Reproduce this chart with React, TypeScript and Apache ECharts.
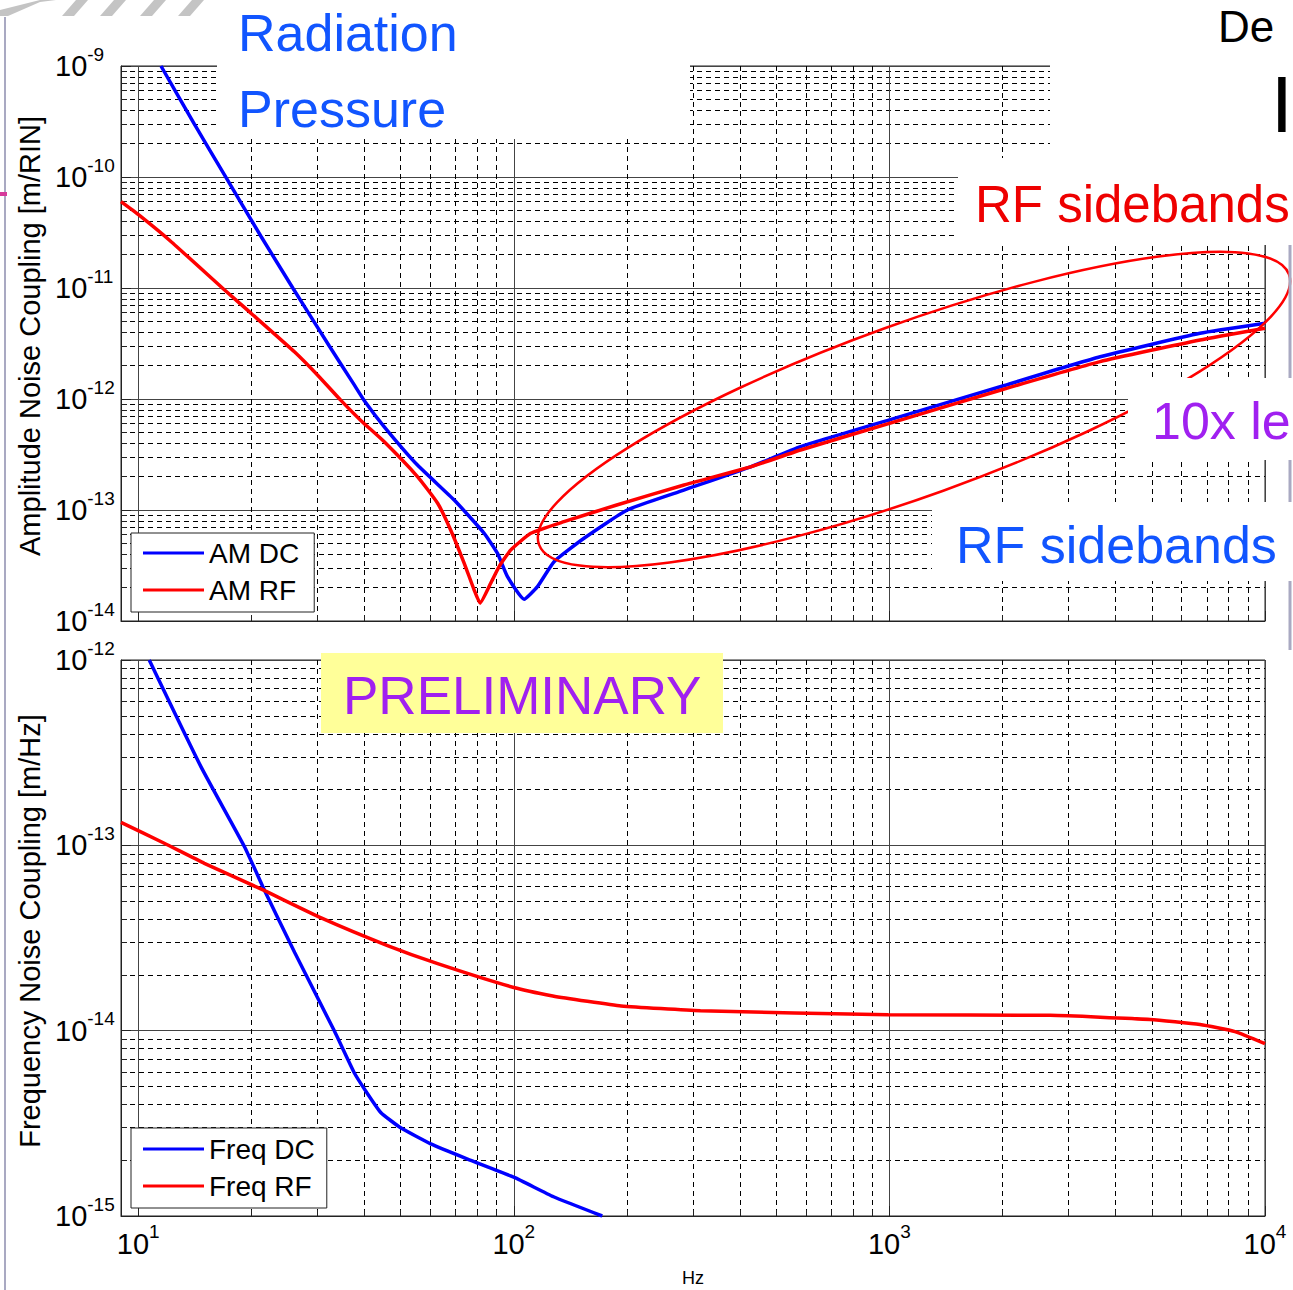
import React, { useEffect, useRef } from 'react';
import * as echarts from 'echarts';

// ---------- data ----------
// Top panel: Amplitude noise coupling [m/RIN]
const amDcFreq = [11.5, 14.1, 17.3, 21.2, 25.8, 32.3, 37.5, 40, 45.2, 55.4, 69.4, 83.4, 90.5, 96.2, 106.5, 115.6, 128, 153.8, 200.5, 283.5, 427, 580, 1069, 1972, 3639, 6714, 10000];
const amDcValue = [1.0e-9, 3.01e-10, 9.37e-11, 2.94e-11, 1.0e-11, 2.99e-12, 1.36e-12, 9.66e-13, 5.62e-13, 2.54e-13, 1.23e-13, 6.17e-14, 4.07e-14, 2.51e-14, 1.57e-14, 2.04e-14, 3.42e-14, 5.56e-14, 1.0e-13, 1.51e-13, 2.45e-13, 3.72e-13, 6.93e-13, 1.29e-12, 2.40e-12, 3.91e-12, 4.81e-12];

const amRfFreq = [9.0, 10, 12.2, 16.9, 20, 26.1, 30.1, 34.7, 39.2, 45.2, 55.4, 62.7, 67.9, 73.8, 78.4, 81.3, 86.8, 91.4, 98.2, 111, 136, 188, 284, 427, 580, 1069, 1972, 3639, 6714, 10000];
const amRfValue = [6.0e-11, 4.6e-11, 2.64e-11, 9.75e-12, 5.9e-12, 2.65e-12, 1.63e-12, 9.66e-13, 6.38e-13, 4.12e-13, 2.0e-13, 1.15e-13, 6.61e-14, 3.31e-14, 1.91e-14, 1.45e-14, 2.19e-14, 3.09e-14, 4.37e-14, 6.17e-14, 7.85e-14, 1.11e-13, 1.68e-13, 2.45e-13, 3.47e-13, 6.46e-13, 1.2e-12, 2.17e-12, 3.40e-12, 4.34e-12];

// Bottom panel: Frequency noise coupling [m/Hz]
const fmDcFreq = [10.7, 14.7, 19.2, 21.7, 26.1, 33.3, 37.6, 41, 44.3, 50, 60.1, 75.3, 100, 127.6, 172];
const fmDcValue = [1.0e-12, 2.65e-13, 9.8e-14, 5.71e-14, 2.64e-14, 9.95e-15, 5.93e-15, 4.5e-15, 3.61e-15, 2.99e-15, 2.45e-15, 2.03e-15, 1.62e-15, 1.27e-15, 1.0e-15];

const fmRfFreq = [9.0, 11.7, 15.0, 21.2, 30.7, 46.1, 62.7, 100, 127, 157, 193, 314, 993, 2680, 4946, 6714, 8320, 10000];
const fmRfValue = [1.33e-13, 1.03e-13, 8.0e-14, 5.82e-14, 4.06e-14, 2.88e-14, 2.30e-14, 1.71e-14, 1.54e-14, 1.44e-14, 1.36e-14, 1.28e-14, 1.22e-14, 1.21e-14, 1.15e-14, 1.08e-14, 9.89e-15, 8.51e-15];

const xRange = [9, 10000];
const amRange = [1e-14, 1e-9];
const fmRange = [1e-15, 1e-12];

const amLegend = ['AM DC', 'AM RF'];
const fmLegend = ['Freq DC', 'Freq RF'];

const FONT = '"Liberation Sans", Arial, Helvetica, sans-serif';
const BLUE = '#0000ff';
const RED = '#ff0000';

function pairs(xs: number[], ys: number[]) {
  return xs.map((x, i) => [x, ys[i]]);
}

function decadeLabel(v: number) {
  const e = Math.round(Math.log10(v));
  if (Math.abs(v / Math.pow(10, e) - 1) > 1e-6) return '';
  return `{b|10}{s|${e}}`;
}

const rich = {
  b: { fontSize: 29, fontFamily: FONT, color: '#000', lineHeight: 29 },
  s: { fontSize: 19, fontFamily: FONT, color: '#000', lineHeight: 19, padding: [0, 0, 24, 0] },
};

function logAxis(min: number, max: number) {
  return {
    type: 'log',
    logBase: 10,
    min,
    max,
    axisLine: { show: true, lineStyle: { color: '#222', width: 1 } },
    axisTick: { show: true, inside: true, length: 10, lineStyle: { color: '#222', width: 1 } },
    minorTick: { show: true, splitNumber: 9, length: 6, lineStyle: { color: '#222', width: 1 } },
    splitLine: { show: true, lineStyle: { color: '#444', width: 1, type: 'solid' } },
    minorSplitLine: { show: true, lineStyle: { color: '#000', width: 1, type: [5, 4] } },
  };
}

function lineSeries(name: string, xi: number, data: number[][], color: string) {
  return {
    name,
    type: 'line',
    xAxisIndex: xi,
    yAxisIndex: xi,
    data,
    showSymbol: false,
    symbol: 'none',
    clip: true,
    smooth: 0.15,
    lineStyle: { color, width: 3.5 },
    itemStyle: { color },
    emphasis: { disabled: true },
  };
}

function legendBox(data: string[], top: number, pad: number[]) {
  return {
    data,
    left: 131,
    top,
    orient: 'vertical',
    icon: 'rect',
    itemWidth: 61,
    itemHeight: 3,
    itemGap: 7,
    padding: pad,
    borderColor: '#222',
    borderWidth: 1,
    borderRadius: 0,
    backgroundColor: '#fff',
    selectedMode: false,
    textStyle: { fontSize: 28, fontFamily: FONT, color: '#000', lineHeight: 30 },
  };
}

function whiteBox(x: number, y: number, w: number, h: number, fill = '#fff') {
  return { type: 'rect', z: 100, shape: { x, y, width: w, height: h }, style: { fill, stroke: null } };
}

function label(text: string, x: number, y: number, size: number, color: string, align = 'left', vAlign = 'middle') {
  return {
    type: 'text',
    z: 110,
    x,
    y,
    style: { text, fill: color, fontSize: size, fontFamily: FONT, align, verticalAlign: vAlign },
  };
}

export default function App() {
  const ref = useRef<HTMLDivElement>(null);

  useEffect(() => {
    if (!ref.current) return;
    const chart = echarts.init(ref.current, null, { renderer: 'svg' });
    const option: any = {
      animation: false,
      backgroundColor: '#fff',
      grid: [
        { left: 121, top: 66, width: 1144, height: 555, show: true, borderColor: '#222', borderWidth: 1, containLabel: false, outerBoundsMode: 'none' },
        { left: 121, top: 660, width: 1144, height: 556, show: true, borderColor: '#222', borderWidth: 1, containLabel: false, outerBoundsMode: 'none' },
      ],
      xAxis: [
        { gridIndex: 0, ...logAxis(xRange[0], xRange[1]), axisLabel: { show: false } },
        {
          gridIndex: 1,
          ...logAxis(xRange[0], xRange[1]),
          axisLabel: { formatter: decadeLabel, rich, margin: 13, showMinLabel: true, showMaxLabel: true },
          name: 'Hz',
          nameLocation: 'middle',
          nameGap: 53,
          nameTextStyle: { fontSize: 18, fontFamily: FONT, color: '#000' },
        },
      ],
      yAxis: [
        {
          gridIndex: 0,
          ...logAxis(amRange[0], amRange[1]),
          axisLabel: { formatter: decadeLabel, rich, align: 'left', margin: 66, showMinLabel: true, showMaxLabel: true },
        },
        {
          gridIndex: 1,
          ...logAxis(fmRange[0], fmRange[1]),
          axisLabel: { formatter: decadeLabel, rich, align: 'left', margin: 66, showMinLabel: true, showMaxLabel: true },
        },
      ],
      legend: [legendBox(amLegend, 533, [5, 15, 7, 12]), legendBox(fmLegend, 1128, [6, 12, 7, 12])],
      series: [
        lineSeries(amLegend[0], 0, pairs(amDcFreq, amDcValue), BLUE),
        lineSeries(amLegend[1], 0, pairs(amRfFreq, amRfValue), RED),
        lineSeries(fmLegend[0], 1, pairs(fmDcFreq, fmDcValue), BLUE),
        lineSeries(fmLegend[1], 1, pairs(fmRfFreq, fmRfValue), RED),
      ],
      graphic: {
        elements: [
          // slide decorations
          { type: 'line', z: 60, shape: { x1: 5, y1: 17, x2: 5, y2: 1290 }, style: { stroke: '#a9a9c2', lineWidth: 2 } },
          { type: 'line', z: 60, shape: { x1: 1290, y1: 240, x2: 1290, y2: 650 }, style: { stroke: '#a9a9c2', lineWidth: 3 } },
          { type: 'rect', z: 60, shape: { x: 0, y: 192, width: 7, height: 4 }, style: { fill: '#d63a9a' } },
          { type: 'polygon', z: 60, shape: { points: [[0, 16], [8, 16], [40, 2], [56, 0], [40, 0], [0, 10]] }, style: { fill: '#c4c4c4' } },
          { type: 'polygon', z: 60, shape: { points: [[62, 16], [74, 16], [88, 0], [76, 0]] }, style: { fill: '#c4c4c4' } },
          { type: 'polygon', z: 60, shape: { points: [[100, 16], [112, 16], [126, 0], [114, 0]] }, style: { fill: '#c4c4c4' } },
          { type: 'polygon', z: 60, shape: { points: [[140, 16], [152, 16], [166, 0], [154, 0]] }, style: { fill: '#c4c4c4' } },
          { type: 'polygon', z: 60, shape: { points: [[178, 16], [190, 16], [204, 0], [192, 0]] }, style: { fill: '#c4c4c4' } },
          // annotation ellipse
          {
            type: 'ellipse',
            z: 50,
            x: 914,
            y: 409.5,
            rotation: 0.3456,
            shape: { cx: 0, cy: 0, rx: 398.5, ry: 86.3 },
            style: { fill: 'transparent', stroke: RED, lineWidth: 2.5 },
          },
          // text boxes that hide the plot underneath
          whiteBox(217, 0, 473, 139),
          whiteBox(1050, 0, 243, 158),
          whiteBox(958, 158, 335, 87),
          whiteBox(1128, 378, 165, 82),
          whiteBox(932, 502, 361, 79),
          whiteBox(321, 653, 402, 80, '#ffff99'),
          label('Radiation', 238, 33, 52, '#1155ff'),
          label('Pressure', 238, 109, 52, '#1155ff'),
          label('RF sidebands', 975, 204, 51, '#ee0000'),
          label('10x le', 1152, 421, 52, '#a020f0'),
          label('RF sidebands', 956, 545, 52, '#1155ff'),
          label('PRELIMINARY', 343, 695, 53, '#a020f0'),
          label('De', 1218, 26, 44, '#000', 'left', 'middle'),
          label('I', 1293, 104, 80, '#000', 'right', 'middle'),
          // axis titles
          {
            type: 'text',
            z: 110,
            x: 30,
            y: 336,
            rotation: Math.PI / 2,
            style: { text: 'Amplitude Noise Coupling [m/RIN]', fill: '#000', fontSize: 29, fontFamily: FONT, align: 'center', verticalAlign: 'middle' },
          },
          {
            type: 'text',
            z: 110,
            x: 30,
            y: 931,
            rotation: Math.PI / 2,
            style: { text: 'Frequency Noise Coupling [m/Hz]', fill: '#000', fontSize: 29, fontFamily: FONT, align: 'center', verticalAlign: 'middle' },
          },
        ],
      },
    };
    chart.setOption(option);
    return () => chart.dispose();
  }, []);

  return (
    <div
      ref={ref}
      style={{ position: 'absolute', left: 0, top: 0, width: 1293, height: 1290, background: '#fff' }}
    />
  );
}
